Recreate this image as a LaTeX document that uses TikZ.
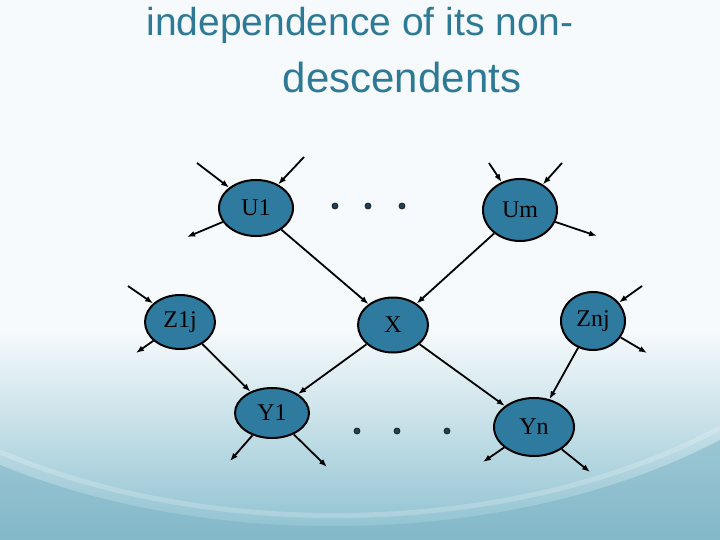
\documentclass[tikz,border=0pt]{standalone}
\usepackage{fontspec}
\setmainfont{Liberation Serif}
\newfontfamily\titlefont{Liberation Sans}
\usetikzlibrary{arrows.meta,shapes.geometric}
\definecolor{nodefill}{HTML}{2F7BA0}
\definecolor{titleblue}{HTML}{2E7A96}
\definecolor{bgtop}{HTML}{F6FAFC}
\definecolor{bgbottom}{HTML}{8CC0CF}
\definecolor{wave}{HTML}{7AB2C4}
\definecolor{dotc}{HTML}{1E2A33}

\begin{document}
\begin{tikzpicture}[x=1pt,y=-1pt,>={Latex[length=8pt,width=6pt]},
    var/.style={ellipse, draw=black, line width=2pt, fill=nodefill, inner sep=0pt,
      font=\fontsize{24}{24}\selectfont},
    link/.style={->, line width=1.8pt}]
        % background
        \useasboundingbox (0,0) rectangle (720,540);
        \fill[bgtop] (0,0) rectangle (720,540);
        \shade[top color=bgtop, bottom color=bgbottom] (0,330) rectangle (720,540);
        \fill[wave, opacity=0.5] (0,465) .. controls (220,555) and (520,545) .. (720,440) -- (720,540) -- (0,540) -- cycle;
        \draw[white, opacity=0.2, line width=5pt] (0,452) .. controls (220,545) and (520,535) .. (720,428);
        % title
        \node[titleblue, font=\titlefont\fontsize{39}{39}\selectfont, anchor=base] (title1) at (360,36) {independence of its non-};
        \node[titleblue, font=\titlefont\fontsize{42}{42}\selectfont, anchor=base] (title2) at (402,93) {descendents};
        % variables
        \node[var, minimum width=74, minimum height=56] (U1) at (256,208) {U1};
        \node[var, minimum width=74, minimum height=62] (Um) at (520,210) {Um};
        \node[var, minimum width=70, minimum height=54] (Z1j) at (180,322) {Z1j};
        \node[var, minimum width=70, minimum height=55] (X) at (393,325) {X};
        \node[var, minimum width=64, minimum height=58] (Znj) at (593,321) {Znj};
        \node[var, minimum width=74, minimum height=50] (Y1) at (272,413) {Y1};
        \node[var, minimum width=80, minimum height=58] (Yn) at (534,427) {Yn};
        % free ends
        \coordinate (u1a) at (197,163);
        \coordinate (u1b) at (304,157);
        \coordinate (u1c) at (187,237);
        \coordinate (uma) at (489,163);
        \coordinate (umb) at (562,163);
        \coordinate (umc) at (597,236);
        \coordinate (z1a) at (128,286);
        \coordinate (z1b) at (136,353);
        \coordinate (zna) at (642,286);
        \coordinate (znb) at (647,353);
        \coordinate (y1a) at (230,461);
        \coordinate (y1b) at (327,467);
        \coordinate (yna) at (483,462);
        \coordinate (ynb) at (590,472);
        % arcs
        \draw[link] (u1a) -- (U1);
        \draw[link] (u1b) -- (U1);
        \draw[link] (U1) -- (u1c);
        \draw[link] (uma) -- (Um);
        \draw[link] (umb) -- (Um);
        \draw[link] (Um) -- (umc);
        \draw[link] (z1a) -- (Z1j);
        \draw[link] (Z1j) -- (z1b);
        \draw[link] (zna) -- (Znj);
        \draw[link] (Znj) -- (znb);
        \draw[link] (U1) -- (X);
        \draw[link] (Um) -- (X);
        \draw[link] (Z1j) -- (Y1);
        \draw[link] (X) -- (Y1);
        \draw[link] (X) -- (Yn);
        \draw[link] (Znj) -- (Yn);
        \draw[link] (Y1) -- (y1a);
        \draw[link] (Y1) -- (y1b);
        \draw[link] (Yn) -- (yna);
        \draw[link] (Yn) -- (ynb);
        % dots
        \foreach \p in {(335,206),(368,206),(402,206),(357,431),(397,431),(447,431)} \filldraw[dotc, fill=dotc!70!nodefill, line width=1.2pt] \p circle(2.8);
      \end{tikzpicture}
\end{document}
